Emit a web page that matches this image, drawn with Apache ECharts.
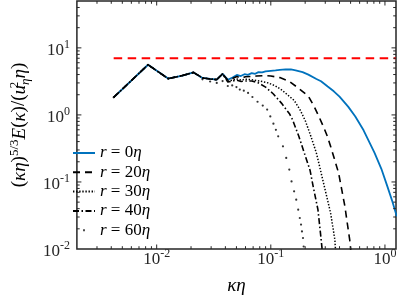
<!DOCTYPE html>
<html><head><meta charset="utf-8">
<script src="https://cdn.jsdelivr.net/npm/echarts@6/dist/echarts.min.js"></script>
<style>html,body{margin:0;padding:0;background:#fff}#c{width:399px;height:303px}</style>
</head><body><div id="c"></div>
<script>
// ---------- data ----------
const sharedK = [0.0042, 0.0084, 0.0126, 0.0168, 0.021, 0.0252, 0.0294, 0.0336, 0.0378];
const sharedE = [1.83, 5.6, 3.48, 3.86, 4.3, 3.56, 3.44, 3.36, 4.09];

const r0K = [0.042, 0.0462, 0.0504, 0.0546, 0.0588, 0.063, 0.068, 0.073, 0.078, 0.084, 0.09, 0.1, 0.11, 0.12, 0.135, 0.15, 0.165, 0.19, 0.2133, 0.251, 0.2754, 0.315, 0.3565, 0.4, 0.476, 0.55, 0.65, 0.811, 0.93, 1.05, 1.16, 1.27];
const r0E = [3.35, 3.62, 3.95, 3.8, 4.05, 3.95, 4.2, 4.1, 4.35, 4.3, 4.45, 4.55, 4.62, 4.7, 4.78, 4.76, 4.62, 4.35, 3.99, 3.44, 3.17, 2.65, 2.25, 1.87, 1.33, 0.946, 0.59, 0.271, 0.157, 0.086, 0.0515, 0.0307];

const r20K = [0.042, 0.0462, 0.0504, 0.055, 0.06, 0.067, 0.075, 0.087, 0.1, 0.12, 0.1452, 0.175, 0.2133, 0.24, 0.2673, 0.29, 0.313, 0.334, 0.36, 0.3926, 0.42, 0.4457, 0.47, 0.491, 0.5, 0.506];
const r20E = [3.29, 3.5, 3.75, 3.55, 3.7, 3.75, 3.8, 3.86, 3.8, 3.6, 3.17, 2.5, 1.9, 1.33, 0.9, 0.66, 0.48, 0.34, 0.223, 0.136, 0.074, 0.0433, 0.023, 0.0138, 0.0103, 0.008];

const r30K = [0.042, 0.0462, 0.05, 0.055, 0.06, 0.0674, 0.08, 0.095, 0.11, 0.125, 0.14, 0.16, 0.18, 0.2005, 0.22, 0.24, 0.2506, 0.27, 0.2944, 0.315, 0.334, 0.35, 0.364, 0.368, 0.373];
const r30E = [3.2, 3.3, 3.45, 3.3, 3.4, 3.37, 3.2, 3.0, 2.7, 2.35, 2.0, 1.65, 1.2, 0.82, 0.53, 0.34, 0.271, 0.16, 0.086, 0.0526, 0.0345, 0.021, 0.0138, 0.0103, 0.008];

const r40K = [0.042, 0.0462, 0.05, 0.055, 0.06, 0.068, 0.0766, 0.09, 0.1054, 0.1239, 0.1452, 0.1549, 0.176, 0.194, 0.2206, 0.235, 0.2588, 0.2723, 0.281, 0.287];
const r40E = [3.1, 3.2, 3.3, 3.15, 3.2, 3.2, 3.05, 2.6, 2.05, 1.5, 1.05, 0.85, 0.48, 0.29, 0.15, 0.086, 0.0386, 0.0173, 0.0103, 0.008];

const r60K = [0.0042, 0.0084, 0.0126, 0.0168, 0.021, 0.0252, 0.0294, 0.0336, 0.0378, 0.042, 0.0459, 0.05, 0.0535, 0.058, 0.0632, 0.069, 0.0765, 0.085, 0.0929, 0.099, 0.1054, 0.1108, 0.1161, 0.1278, 0.1365, 0.1452, 0.1519, 0.160, 0.167, 0.1738, 0.1795, 0.184, 0.1875, 0.1914, 0.194];
const r60E = [1.83, 5.6, 3.48, 3.86, 4.3, 3.4, 3.15, 3.0, 3.2, 2.7, 2.75, 2.6, 2.39, 2.3, 2.13, 1.85, 1.57, 1.38, 1.2, 0.95, 0.74, 0.6, 0.48, 0.34, 0.228, 0.153, 0.102, 0.0724, 0.0545, 0.0386, 0.029, 0.0231, 0.0183, 0.0146, 0.0109];

const refK = [0.0042, 1.25];
const refE = [7.0, 7.0];

const seriesNames = ['r0', 'r20', 'r30', 'r40', 'r60'];
const legendLabels = ['{i|r}{n| = 0}{i|η}', '{i|r}{n| = 20}{i|η}', '{i|r}{n| = 30}{i|η}', '{i|r}{n| = 40}{i|η}', '{i|r}{n| = 60}{i|η}'];

const X_MIN = 0.002, X_MAX = 1.25, Y_MIN = 0.01, Y_MAX = 50;
const xMajorTicks = [0.01, 0.1, 1];
const yMajorTicks = [0.1, 1, 10];
const xMinorTicks = [], yMinorTicks = [];
for (let e = -3; e <= 0; e++) for (let m = 2; m <= 9; m++) {
  const v = +(m * Math.pow(10, e)).toPrecision(3);
  if (v > X_MIN * 1.001 && v < X_MAX * 0.999) xMinorTicks.push(v);
}
for (let e = -2; e <= 1; e++) for (let m = 2; m <= 9; m++) {
  const v = +(m * Math.pow(10, e)).toPrecision(3);
  if (v > Y_MIN * 1.001 && v < Y_MAX * 0.999) yMinorTicks.push(v);
}

// ---------- helpers ----------
const FONT = '"Liberation Serif", "DejaVu Serif", serif';
const AX = '#262626';
function zip(k, e) { return k.map((v, i) => [v, e[i]]); }
function withShared(k, e) { return zip(sharedK.concat(k), sharedE.concat(e)); }
function powLabel(v) {
  const e = Math.log10(v), r = Math.round(e);
  if (Math.abs(e - r) > 1e-6) return '';
  return '{b|10}{s|' + r + '}';
}
const tickRich = {
  b: {fontSize: 17, lineHeight: 17, fontFamily: FONT, color: AX, verticalAlign: 'bottom'},
  s: {fontSize: 12, lineHeight: 12, padding: [0, 0, 8, 0], fontFamily: FONT, color: AX, verticalAlign: 'bottom'}
};

const tickData = [];
xMajorTicks.forEach(v => tickData.push([v, Y_MIN, 0, 1]));
xMinorTicks.forEach(v => tickData.push([v, Y_MIN, 0, 0]));
yMajorTicks.forEach(v => tickData.push([X_MIN, v, 1, 1]));
yMinorTicks.forEach(v => tickData.push([X_MIN, v, 1, 0]));

function renderTick(params, api) {
  const cs = params.coordSys;
  const isX = api.value(2) === 0;
  const L = api.value(3) === 1 ? 4.5 : 2.8;
  const p = api.coord([api.value(0), api.value(1)]);
  const style = {stroke: AX, lineWidth: 1, fill: null};
  if (isX) {
    const x = p[0];
    return {type: 'group', children: [
      {type: 'line', shape: {x1: x, y1: cs.y + cs.height, x2: x, y2: cs.y + cs.height - L}, style},
      {type: 'line', shape: {x1: x, y1: cs.y, x2: x, y2: cs.y + L}, style}
    ]};
  }
  const y = p[1];
  return {type: 'group', children: [
    {type: 'line', shape: {x1: cs.x, y1: y, x2: cs.x + L, y2: y}, style},
    {type: 'line', shape: {x1: cs.x + cs.width, y1: y, x2: cs.x + cs.width - L, y2: y}, style}
  ]};
}

const chart = echarts.init(document.getElementById('c'), null, {renderer: 'canvas', width: 399, height: 303});
chart.setOption({
  animation: false,
  backgroundColor: '#fff',
  textStyle: {fontFamily: FONT},
  grid: {left: 62, right: 2, top: 1, bottom: 54, show: true, borderColor: AX, borderWidth: 1.5, backgroundColor: 'transparent'},
  xAxis: {
    type: 'log', logBase: 10, min: X_MIN, max: X_MAX,
    axisLine: {show: false}, axisTick: {show: false}, splitLine: {show: false},
    axisLabel: {formatter: powLabel, margin: 2, rich: tickRich, fontFamily: FONT, hideOverlap: false},
    name: '{i|κη}', nameLocation: 'middle', nameGap: 27,
    nameTextStyle: {fontFamily: FONT, fontSize: 19, color: '#000', lineHeight: 20,
      rich: {i: {fontFamily: FONT, fontStyle: 'italic', fontSize: 19, lineHeight: 20, color: '#000'}}}
  },
  yAxis: {
    type: 'log', logBase: 10, min: Y_MIN, max: Y_MAX,
    axisLine: {show: false}, axisTick: {show: false}, splitLine: {show: false},
    axisLabel: {formatter: powLabel, margin: 7, rich: tickRich, fontFamily: FONT, padding: [5, 0, 0, 0], hideOverlap: false},
    name: '{n|(}{i|κη}{n|)}{s|5/3}{i|E}{n|(}{i|κ}{n|)/(}{i|u}{ss|2}{sb|η}{i|η}{n|)}',
    nameLocation: 'middle', nameGap: 32,
    nameTextStyle: {fontFamily: FONT, fontSize: 19, color: '#000',
      rich: {
        n: {fontFamily: FONT, fontSize: 19, lineHeight: 19, padding: [0, 0, 3, 0], verticalAlign: 'bottom', color: '#000'},
        i: {fontFamily: FONT, fontStyle: 'italic', fontSize: 19, lineHeight: 19, padding: [0, 0, 3, 0], verticalAlign: 'bottom', color: '#000'},
        s: {fontFamily: FONT, fontSize: 13, lineHeight: 13, padding: [0, 0, 11, 0], verticalAlign: 'bottom', color: '#000'},
        ss: {fontFamily: FONT, fontSize: 13, lineHeight: 13, padding: [0, 0, 11, 0], verticalAlign: 'bottom', width: 0, color: '#000'},
        sb: {fontFamily: FONT, fontStyle: 'italic', fontSize: 13, lineHeight: 13, verticalAlign: 'bottom', color: '#000'}
      }}
  },
  legend: {
    orient: 'vertical', left: 72, top: 144.5, padding: 0,
    itemWidth: 22, itemHeight: 14, itemGap: 2.3,
    itemStyle: {opacity: 0},
    formatter: name => legendLabels[seriesNames.indexOf(name)],
    textStyle: {fontFamily: FONT, fontSize: 17, color: '#000', lineHeight: 14,
      rich: {
        i: {fontFamily: FONT, fontStyle: 'italic', fontSize: 17, lineHeight: 14, color: '#000'},
        n: {fontFamily: FONT, fontSize: 17, lineHeight: 14, color: '#000'}
      }},
    data: [
      {name: 'r0'}, {name: 'r20'}, {name: 'r30'}, {name: 'r40'},
      {name: 'r60', icon: 'path://M0,0M100,100M45,43h10v14h-10z', itemStyle: {opacity: 1, color: '#000'}}
    ]
  },
  series: [
    {name: 'r0', type: 'line', symbol: 'none', data: withShared(r0K, r0E),
      lineStyle: {color: '#0072BD', width: 1.8}, itemStyle: {color: '#0072BD'}, z: 2},
    {name: 'r20', type: 'line', symbol: 'none', data: withShared(r20K, r20E),
      lineStyle: {color: '#000', width: 1.6, type: [7, 5]}, itemStyle: {color: '#000'}, z: 3},
    {name: 'r30', type: 'line', symbol: 'none', data: withShared(r30K, r30E),
      lineStyle: {color: '#000', width: 1.5, type: [1.4, 1.7]}, itemStyle: {color: '#000'}, z: 3},
    {name: 'r40', type: 'line', symbol: 'none', data: withShared(r40K, r40E),
      lineStyle: {color: '#000', width: 1.6, type: [6, 2.5, 1.5, 2.5]}, itemStyle: {color: '#000'}, z: 3},
    {name: 'r60', type: 'scatter', symbol: 'circle', symbolSize: 2.2, data: zip(r60K, r60E),
      itemStyle: {color: '#000'}, z: 3},
    {name: 'ref', type: 'line', symbol: 'none', data: zip(refK, refE),
      lineStyle: {color: '#ff0000', width: 2, type: [8.5, 5.5]}, z: 3},
    {name: 'ticks', type: 'custom', renderItem: renderTick, data: tickData,
      encode: {x: 0, y: 1}, clip: false, silent: true, z: 5}
  ]
});
</script>
</body></html>
